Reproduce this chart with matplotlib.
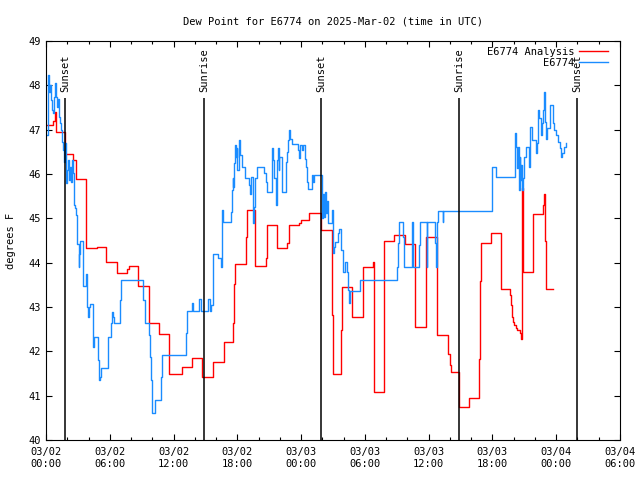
import numpy as np
import pandas as pd
import matplotlib
matplotlib.use('Agg')
import matplotlib.pyplot as plt
import matplotlib.dates as mdates

# hours since 2025-03-02 00:00 UTC, value starts at that hour (step data)
ana_hours = [0.07, 0.69, 0.85, 0.90, 1.79, 2.57, 2.82, 3.72, 4.77, 5.64, 6.71, 7.65, 7.84,
             8.68, 9.69, 10.66, 11.60, 12.77, 13.71, 14.70, 15.74, 16.70, 17.62, 17.71,
             17.81, 18.81, 18.88, 19.69, 20.67, 20.79, 21.76, 22.70, 22.89, 23.77, 24.02,
             24.71, 25.84, 26.90, 26.97, 27.75, 27.82, 28.79, 29.85, 30.79, 30.86, 30.90,
             31.83, 32.78, 33.73, 34.76, 35.79, 36.74, 36.81, 37.86, 37.98, 38.07, 38.82,
             39.75, 40.77, 40.86, 40.95, 41.82, 42.78, 42.83, 43.65, 43.74, 43.87, 43.93,
             44.06, 44.19, 44.34, 44.62, 44.71, 44.78, 44.84, 44.90, 45.84, 46.78, 46.88,
             46.94, 47.01, 47.72]
ana_vals = [47.10, 47.20, 47.40, 46.94, 46.44, 46.32, 45.88, 44.32, 44.35, 44.02, 43.77, 43.86, 43.93,
            43.47, 42.65, 42.38, 41.49, 41.65, 41.84, 41.42, 41.75, 42.20, 42.64, 43.52,
            43.96, 44.59, 45.18, 43.92, 44.10, 44.85, 44.32, 44.45, 44.85, 44.89, 44.96,
            45.11, 44.74, 42.82, 41.50, 42.48, 43.44, 42.78, 43.90, 44.02, 42.60, 41.08,
            44.49, 44.62, 44.42, 42.56, 44.57, 44.00, 42.36, 41.95, 41.69, 41.53, 40.74,
            40.94, 41.83, 43.59, 44.45, 44.68, 44.04, 43.40, 43.27, 43.04, 42.78, 42.67,
            42.59, 42.52, 42.47, 42.42, 42.27, 45.68, 44.02, 43.78, 45.09, 45.30, 45.56,
            44.49, 43.40, 43.40]

obs_hours = [0.07, 0.22, 0.28, 0.38, 0.47, 0.56, 0.69, 0.75, 0.85, 0.91, 1.01, 1.10, 1.22,
             1.32, 1.41, 1.51, 1.57, 1.69, 1.79, 1.88, 1.95, 2.07, 2.16, 2.26, 2.35, 2.45,
             2.54, 2.59, 2.70, 2.79, 2.89, 2.94, 3.08, 3.10, 3.13, 3.20, 3.45, 3.51, 3.76,
             3.83, 3.89, 3.98, 4.05, 4.14, 4.39, 4.45, 4.54, 4.89, 4.99, 5.08, 5.20, 5.79,
             5.86, 6.09, 6.18, 6.30, 6.40, 6.96, 7.03, 9.15, 9.31, 9.69, 9.78, 9.88, 9.94,
             10.00, 10.25, 10.79, 10.88, 13.14, 13.24, 13.76, 13.86, 14.42, 14.55, 15.27,
             15.43, 15.49, 15.74, 16.21, 16.43, 16.59, 16.68, 17.38, 17.47, 17.56, 17.62,
             17.71, 17.78, 17.87, 17.94, 18.00, 18.18, 18.28, 18.44, 18.75, 19.07, 19.16,
             19.29, 19.50, 19.57, 19.69, 19.82, 20.51, 20.70, 20.82, 21.26, 21.38, 21.48,
             21.64, 21.70, 21.80, 21.89, 21.95, 22.17, 22.58, 22.70, 22.79, 22.89, 22.98,
             23.11, 23.68, 23.77, 23.89, 24.05, 24.21, 24.34, 24.46, 24.55, 24.68, 24.99,
             25.14, 25.21, 25.92, 25.96, 26.06, 26.12, 26.22, 26.34, 26.43, 26.53, 26.90,
             26.97, 27.06, 27.16, 27.44, 27.53, 27.78, 27.91, 28.16, 28.29, 28.41, 28.48,
             28.63, 29.54, 32.99, 33.11, 33.18, 33.56, 33.71, 34.46, 34.55, 35.09, 35.18,
             35.81, 35.87, 36.59, 36.66, 36.75, 36.85, 37.32, 37.37, 41.93, 41.99, 42.36,
             44.09, 44.15, 44.24, 44.34, 44.43, 44.47, 44.56, 44.62, 44.68, 44.81, 44.90,
             45.00, 45.13, 45.44, 45.50, 45.75, 46.12, 46.22, 46.31, 46.41, 46.54, 46.63,
             46.73, 46.88, 46.94, 47.04, 47.16, 47.44, 47.67, 47.79, 47.98, 48.16, 48.33,
             48.48, 48.57, 48.73, 48.89]
obs_vals = [46.88, 48.23, 47.86, 48.00, 47.67, 47.44, 47.38, 47.74, 48.05, 47.74, 47.52, 47.70, 47.29,
            47.14, 46.99, 46.73, 46.54, 46.28, 46.69, 45.79, 46.09, 46.32, 45.86, 46.16, 45.83, 46.32,
            46.02, 45.30, 45.23, 45.07, 44.89, 44.41, 44.21, 43.91, 44.20, 44.49, 43.98, 43.48, 43.75,
            43.61, 43.01, 42.78, 43.01, 43.06, 42.56, 42.10, 42.33, 41.80, 41.35, 41.43, 41.62, 42.10,
            42.33, 42.63, 42.89, 42.78, 42.63, 43.16, 43.62, 43.16, 42.63, 42.37, 41.88, 41.35, 40.86,
            40.62, 40.90, 41.41, 41.91, 42.41, 42.91, 43.10, 42.91, 43.17, 42.91, 43.17,
            42.91, 43.04, 44.19, 44.10, 43.90, 45.19, 44.91, 45.15, 45.64, 45.90, 45.71,
            46.24, 46.65, 46.39, 46.58, 46.09, 46.77, 46.43, 46.16, 45.90, 45.75, 45.56,
            45.94, 44.89, 45.26, 45.90, 46.16, 46.02, 45.83, 45.59, 46.58, 46.32, 45.90,
            45.30, 46.32, 46.58, 46.09, 46.39, 45.60, 46.28, 46.50, 46.77, 46.99, 46.80,
            46.68, 46.54, 46.35, 46.65, 46.54, 46.65, 46.33, 46.16, 45.83, 45.66, 45.98,
            45.83, 45.98, 45.49, 45.00, 45.56, 45.04, 45.60, 45.11, 45.38, 44.89, 45.19,
            44.21, 44.36, 44.47, 44.66, 44.77, 44.29, 43.78, 44.02, 43.80, 43.38, 43.08,
            43.35, 43.62, 43.91, 44.45, 44.91, 44.59, 43.91, 44.91, 43.91, 44.40, 44.91,
            43.91, 44.91, 44.44, 43.91, 44.91, 45.17, 44.92, 45.17, 45.71, 46.16, 45.94,
            46.39, 46.92, 46.62, 46.13, 46.62, 45.64, 46.39, 45.86, 46.20, 45.64, 45.90,
            46.39, 46.62, 46.16, 47.07, 46.77, 46.47, 46.70, 47.44, 47.26, 46.88, 47.14,
            47.44, 47.86, 47.18, 46.80, 47.03, 47.56, 47.14, 46.99, 46.88, 46.73, 46.58,
            46.39, 46.47, 46.62, 46.69]

sun_hours = [1.79, 14.86, 25.87, 38.85, 49.95]
sun_labels = ['Sunset', 'Sunrise', 'Sunset', 'Sunrise', 'Sunset']

start = pd.Timestamp('2025-03-02 00:00')
def to_time(h):
    return start + pd.to_timedelta(np.array(h), unit='h')

plt.rcParams['font.family'] = ['DejaVu Sans Mono']
plt.rcParams['font.size'] = 7.5

fig = plt.figure(figsize=(6.4, 4.8), dpi=100)
ax = fig.add_axes([46/640, 40/480, 574/640, 399/480])

ax.step(to_time(ana_hours), ana_vals, where='post', color='#ff0000', lw=1.0, label='E6774 Analysis')
ax.step(to_time(obs_hours), obs_vals, where='post', color='#1a8cff', lw=1.0, label='E6774')

for t, lab in zip(to_time(sun_hours), sun_labels):
    ax.vlines(t, 40, 47.71, color='black', lw=1.1)
    ax.text(t, 47.86, lab, rotation=90, ha='center', va='bottom', fontsize=7.5)

ax.set_xlim(start, start + pd.Timedelta(hours=54))
ax.set_ylim(40, 49)
ax.set_yticks(np.arange(40, 50, 1))
ax.xaxis.set_major_locator(mdates.HourLocator(byhour=[0, 6, 12, 18]))
ax.xaxis.set_minor_locator(mdates.HourLocator(interval=2))
ax.xaxis.set_major_formatter(mdates.DateFormatter('%m/%d\n%H:%M'))
ax.tick_params(which='both', direction='in', top=True, right=True, width=0.8)
ax.tick_params(which='major', length=4)
ax.tick_params(which='minor', length=2.2)
ax.tick_params(axis='x', pad=5)
for s in ax.spines.values():
    s.set_linewidth(0.8)

ax.set_ylabel('degrees F', labelpad=9)
ax.set_title('Dew Point for E6774 on 2025-Mar-02 (time in UTC)', fontsize=7.5, pad=12)
ax.legend(loc='upper right', frameon=False, markerfirst=False, handlelength=2.8,
          handletextpad=0.4, labelspacing=0.1, borderaxespad=0.1, fontsize=7.5,
          bbox_to_anchor=(0.988, 0.998))

fig.savefig('out.png', dpi=100)
